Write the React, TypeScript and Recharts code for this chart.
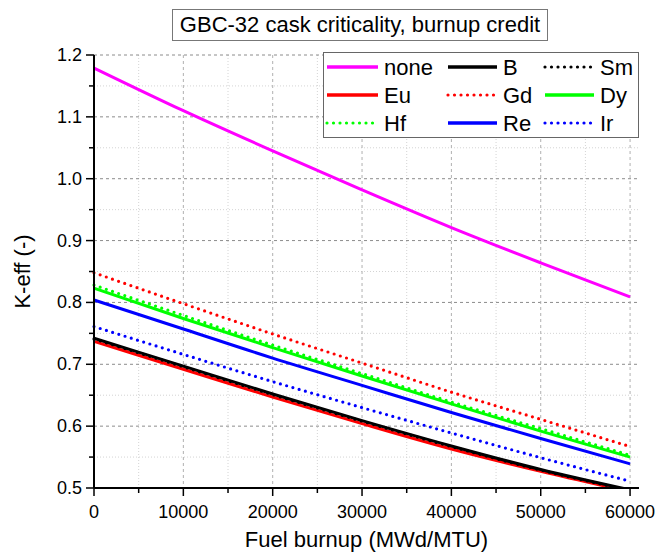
import { LineChart, Line, XAxis, YAxis, CartesianGrid, Legend } from "recharts";

// burnup points (MWd/MTU) and K-eff per absorber
const burnup = [0, 10000, 20000, 30000, 40000, 50000, 60000];
const none = [1.179, 1.11, 1.045, 0.982, 0.921, 0.864, 0.809];
const kB = [0.742, 0.697, 0.652, 0.609, 0.568, 0.53, 0.497];
const kSm = [0.741, 0.696, 0.651, 0.608, 0.567, 0.529, 0.496];
const kEu = [0.737, 0.692, 0.647, 0.604, 0.563, 0.527, 0.494];
const kGd = [0.848, 0.798, 0.749, 0.702, 0.655, 0.611, 0.567];
const kDy = [0.823, 0.774, 0.727, 0.681, 0.636, 0.592, 0.55];
const kHf = [0.828, 0.779, 0.731, 0.685, 0.639, 0.596, 0.553];
const kRe = [0.804, 0.757, 0.71, 0.666, 0.622, 0.58, 0.539];
const kIr = [0.761, 0.716, 0.672, 0.63, 0.589, 0.549, 0.511];

const xTicks = [0, 5000, 10000, 15000, 20000, 25000, 30000, 35000, 40000, 45000, 50000, 55000, 60000];
const yTicks = [0.5, 0.55, 0.6, 0.65, 0.7, 0.75, 0.8, 0.85, 0.9, 0.95, 1.0, 1.05, 1.1, 1.15, 1.2];
const xMajorGrid = [10000, 20000, 30000, 40000, 50000, 60000];
const xMinorGrid = [5000, 15000, 25000, 35000, 45000, 55000];
const yMajorGrid = [0.6, 0.7, 0.8, 0.9, 1.0, 1.1, 1.2];
const yMinorGrid = [0.55, 0.65, 0.75, 0.85, 0.95, 1.05, 1.15];

// legend order (3 columns, row-major)
const legendOrder = ["none", "B", "Sm", "Eu", "Gd", "Dy", "Hf", "Re", "Ir"];

// draw order, bottom first
const series = [
  { name: "none", values: none, color: "#ff00ff", dotted: false },
  { name: "Eu", values: kEu, color: "#ff0000", dotted: false },
  { name: "Sm", values: kSm, color: "#000000", dotted: true },
  { name: "B", values: kB, color: "#000000", dotted: false },
  { name: "Gd", values: kGd, color: "#ff0000", dotted: true },
  { name: "Dy", values: kDy, color: "#00ff00", dotted: false },
  { name: "Hf", values: kHf, color: "#00ff00", dotted: true },
  { name: "Re", values: kRe, color: "#0000ff", dotted: false },
  { name: "Ir", values: kIr, color: "#0000ff", dotted: true },
];

const data = burnup.map((b, i) => {
  const row: Record<string, number> = { burnup: b };
  series.forEach((s) => (row[s.name] = s.values[i]));
  return row;
});

const FONT = "'Liberation Sans', Arial, sans-serif";
const DOT_DASH = "0 6.5";

function YTick({ x, y, payload }: any) {
  const v = payload.value as number;
  const major = Math.abs(v * 10 - Math.round(v * 10)) < 1e-6;
  return (
    <g>
      <line x1={x - (major ? 8 : 5)} x2={x} y1={y} y2={y} stroke="#000" strokeWidth={1.5} />
      {major && (
        <text x={x - 12} y={y} textAnchor="end" dominantBaseline="central" fontSize={18} fill="#000" fontFamily={FONT}>
          {v.toFixed(1)}
        </text>
      )}
    </g>
  );
}

function XTick({ x, y, payload }: any) {
  const v = payload.value as number;
  const major = v % 10000 === 0;
  return (
    <g>
      <line x1={x} x2={x} y1={y} y2={y + (major ? 8 : 5)} stroke="#000" strokeWidth={1.5} />
      {major && (
        <text x={x} y={y + 30} textAnchor="middle" fontSize={18} fill="#000" fontFamily={FONT}>
          {v}
        </text>
      )}
    </g>
  );
}

const COLS = [2, 123, 220];

function LegendBox({ payload }: any) {
  const items = payload || [];
  return (
    <svg width={316} height={86} style={{ display: "block" }}>
      <rect x={0.5} y={0.5} width={315} height={85} fill="#fff" stroke="#666" strokeWidth={1} />
      {legendOrder.map((name, i) => {
        const entry = items.find((p: any) => p.value === name);
        const s = series.find((d) => d.name === name)!;
        const color = entry ? entry.color : s.color;
        const col = i % 3;
        const row = Math.floor(i / 3);
        const x0 = COLS[col];
        const y0 = 15 + row * 28;
        const len = col === 0 ? 53 : 51;
        return (
          <g key={name}>
            <line
              x1={x0 + 2}
              x2={x0 + len}
              y1={y0}
              y2={y0}
              stroke={color}
              strokeWidth={s.dotted ? 3.2 : 3.5}
              strokeDasharray={s.dotted ? DOT_DASH : undefined}
              strokeLinecap={s.dotted ? "round" : "butt"}
            />
            <text x={x0 + len + 6} y={y0} dominantBaseline="central" fontSize={22} fill="#000" fontFamily={FONT}>
              {name}
            </text>
          </g>
        );
      })}
    </svg>
  );
}

export default function App() {
  return (
    <div style={{ position: "absolute", left: 0, top: 0, width: 656, height: 558, background: "#fff", fontFamily: FONT }}>
      <div
        style={{
          position: "absolute",
          left: 172,
          top: 9,
          width: 376,
          height: 32,
          boxSizing: "border-box",
          border: "1px solid #777",
          fontSize: 22,
          lineHeight: "30px",
          textAlign: "center",
          color: "#000",
          whiteSpace: "nowrap",
        }}
      >
        GBC-32 cask criticality, burnup credit
      </div>
      <LineChart width={656} height={558} data={data} margin={{ top: 55, right: 17, bottom: 0, left: 0 }}>
        <CartesianGrid horizontalValues={yMinorGrid} verticalValues={xMinorGrid} stroke="#d4d4d4" strokeDasharray="1 2" />
        <CartesianGrid horizontalValues={yMajorGrid} vertical={false} stroke="#8c8c8c" strokeDasharray="3 3" />
        <CartesianGrid verticalValues={xMajorGrid} horizontal={false} stroke="#b0b0b0" strokeDasharray="3 3" />
        <XAxis
          dataKey="burnup"
          type="number"
          domain={[0, 61000]}
          ticks={xTicks}
          interval={0}
          height={70}
          tickSize={0}
          tickMargin={0}
          tickLine={false}
          tick={<XTick />}
          axisLine={{ stroke: "#000", strokeWidth: 2 }}
          label={{ value: "Fuel burnup (MWd/MTU)", position: "center", dy: 16, fontSize: 22, fill: "#000", fontFamily: FONT }}
        />
        <YAxis
          type="number"
          domain={[0.5, 1.2]}
          ticks={yTicks}
          interval={0}
          allowDataOverflow
          width={94}
          tickSize={0}
          tickMargin={0}
          tickLine={false}
          tick={<YTick />}
          axisLine={{ stroke: "#000", strokeWidth: 2 }}
          label={{ value: "K-eff (-)", angle: -90, position: "center", dx: -25, fontSize: 22, fill: "#000", fontFamily: FONT }}
        />
        {series.map((s) => (
          <Line
            key={s.name}
            type="monotone"
            dataKey={s.name}
            name={s.name}
            stroke={s.color}
            strokeWidth={s.dotted ? 3.2 : 3}
            strokeDasharray={s.dotted ? DOT_DASH : undefined}
            strokeLinecap={s.dotted ? "round" : "butt"}
            dot={false}
            activeDot={false}
            isAnimationActive={false}
          />
        ))}
        <Legend
          layout="horizontal"
          verticalAlign="middle"
          align="center"
          wrapperStyle={{ position: "absolute", left: 323, top: 52, width: 316, height: 86 }}
          content={(props: any) => <LegendBox payload={props.payload} />}
        />
      </LineChart>
    </div>
  );
}
